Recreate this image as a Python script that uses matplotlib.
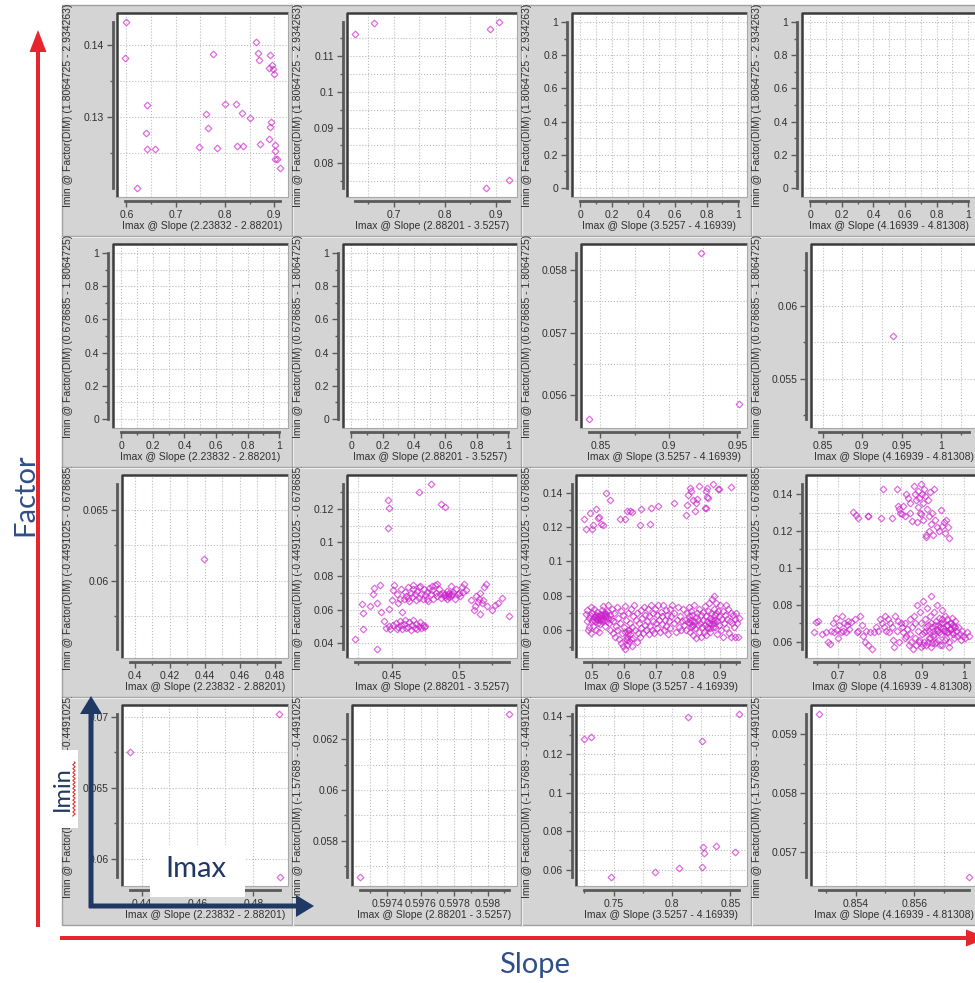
import numpy as np
import matplotlib.pyplot as plt
from matplotlib.ticker import FixedLocator, FuncFormatter
from matplotlib.transforms import Bbox, TransformedBbox
from matplotlib.patches import Rectangle, FancyArrow

W, H = 975, 983

slope_bins = ["2.23832 - 2.88201", "2.88201 - 3.5257", "3.5257 - 4.16939", "4.16939 - 4.81308"]
factor_bins = ["1.8064725 - 2.934263", "0.678685 - 1.8064725",
               "-0.4491025 - 0.678685", "-1.57689 - -0.4491025"]

# row 0 (Factor 1.81 - 2.93)
imax_r0c0 = [0.600, 0.598, 0.622, 0.641, 0.639, 0.642, 0.659, 0.747, 0.762, 0.765, 0.776, 0.784,
             0.800, 0.823, 0.825, 0.837, 0.834, 0.850, 0.864, 0.867, 0.869, 0.871, 0.892, 0.890,
             0.896, 0.897, 0.900, 0.893, 0.891, 0.890, 0.901, 0.901, 0.901, 0.905, 0.911]
imin_r0c0 = [0.1431, 0.1381, 0.1202, 0.1317, 0.1278, 0.1256, 0.1256, 0.1258, 0.1304, 0.1285, 0.1387, 0.1257,
             0.1318, 0.1318, 0.1260, 0.1260, 0.1306, 0.1298, 0.1404, 0.1388, 0.1379, 0.1262, 0.1386, 0.1367,
             0.1372, 0.1366, 0.1359, 0.1293, 0.1286, 0.1270, 0.1261, 0.1253, 0.1242, 0.1242, 0.1229]
imax_r0c1 = [0.625, 0.661, 0.889, 0.907, 0.881, 0.925]
imin_r0c1 = [0.1163, 0.1193, 0.1176, 0.1195, 0.0731, 0.0752]

# row 1 (Factor 0.68 - 1.81)
imax_r1c2 = [0.8415, 0.9232, 0.9510]
imin_r1c2 = [0.05562, 0.05827, 0.05586]
imax_r1c3 = [0.939]
imin_r1c3 = [0.05798]

# row 2 (Factor -0.45 - 0.68)
imax_r2c0 = [0.4395]
imin_r2c0 = [0.0615]
imax_r2c1 = [0.447, 0.448, 0.447, 0.470, 0.479, 0.487, 0.490,
             0.423, 0.439, 0.429, 0.429, 0.428, 0.434, 0.436, 0.437, 0.439, 0.442, 0.444, 0.441,
             0.446, 0.449, 0.451, 0.453, 0.455, 0.456, 0.458, 0.459, 0.460, 0.462, 0.463, 0.464,
             0.465, 0.466, 0.467, 0.468, 0.469, 0.470, 0.471, 0.472, 0.473, 0.474, 0.475, 0.457,
             0.461, 0.454, 0.448,
             0.448, 0.450, 0.451, 0.452, 0.454, 0.455, 0.456, 0.457, 0.458, 0.459, 0.460, 0.461,
             0.462, 0.463, 0.464, 0.465, 0.466, 0.467, 0.468, 0.469, 0.470, 0.471, 0.472, 0.473,
             0.474, 0.475, 0.476, 0.477, 0.478, 0.479, 0.480, 0.481, 0.482, 0.483, 0.484, 0.485,
             0.486, 0.487, 0.488, 0.489, 0.490, 0.490, 0.491, 0.491, 0.492, 0.492, 0.493, 0.493,
             0.494, 0.494, 0.495, 0.496, 0.497, 0.498, 0.499, 0.500, 0.501, 0.502, 0.503, 0.504,
             0.505, 0.480, 0.470, 0.466, 0.462, 0.476, 0.484,
             0.509, 0.511, 0.512, 0.513, 0.514, 0.515, 0.516, 0.517, 0.518, 0.519, 0.520, 0.521,
             0.516, 0.525, 0.527, 0.529, 0.532, 0.537]
imin_r2c1 = [0.1253, 0.1208, 0.1089, 0.1303, 0.1348, 0.1228, 0.1214,
             0.0422, 0.0365, 0.0580, 0.0485, 0.0635, 0.0620, 0.0690, 0.0730, 0.0640, 0.0585, 0.0530, 0.0745,
             0.0492, 0.0485, 0.0505, 0.0518, 0.0498, 0.0532, 0.0485, 0.0512, 0.0540, 0.0495, 0.0523, 0.0478,
             0.0505, 0.0535, 0.0490, 0.0515, 0.0482, 0.0502, 0.0528, 0.0488, 0.0508, 0.0495, 0.0502, 0.0508,
             0.0488, 0.0485, 0.0500,
             0.0605, 0.0655, 0.0715, 0.0745, 0.0690, 0.0640, 0.0665, 0.0720, 0.0585, 0.0660, 0.0705, 0.0680,
             0.0735, 0.0650, 0.0700, 0.0675, 0.0725, 0.0690, 0.0655, 0.0710, 0.0670, 0.0740, 0.0695, 0.0660,
             0.0720, 0.0685, 0.0705, 0.0650, 0.0730, 0.0690, 0.0715, 0.0665, 0.0745, 0.0700, 0.0680, 0.0720,
             0.0690, 0.0670, 0.0700, 0.0685, 0.0675, 0.0695, 0.0710, 0.0665, 0.0690, 0.0680, 0.0700, 0.0672,
             0.0688, 0.0740, 0.0695, 0.0705, 0.0660, 0.0725, 0.0690, 0.0700, 0.0680, 0.0735, 0.0705, 0.0755,
             0.0715, 0.0740, 0.0735, 0.0745, 0.0670, 0.0660, 0.0755,
             0.0655, 0.0600, 0.0620, 0.0680, 0.0645, 0.0660, 0.0700, 0.0640, 0.0655, 0.0735, 0.0750, 0.0620,
             0.0575, 0.0600, 0.0625, 0.0640, 0.0668, 0.0560]

imax_r2c2 = [0.477, 0.482, 0.495, 0.500, 0.505, 0.514, 0.518, 0.522, 0.530, 0.534, 0.543, 0.558,
             0.589, 0.603, 0.610, 0.619, 0.626, 0.651, 0.653, 0.682, 0.684, 0.708, 0.758, 0.793,
             0.798, 0.800, 0.805, 0.811, 0.816, 0.821, 0.826, 0.829, 0.836, 0.853, 0.856, 0.859,
             0.861, 0.863, 0.879, 0.893, 0.898, 0.933, 0.857,
             0.482, 0.484, 0.486, 0.488, 0.490, 0.492, 0.494, 0.496, 0.498, 0.500,
             0.502, 0.504, 0.506, 0.508, 0.510, 0.512, 0.514, 0.515, 0.517, 0.519, 0.520, 0.522,
             0.524, 0.525, 0.527, 0.529, 0.531, 0.532, 0.534, 0.536, 0.538, 0.540, 0.542, 0.544,
             0.546, 0.548, 0.550,
             0.552, 0.554, 0.556, 0.558, 0.560, 0.562, 0.565, 0.567, 0.570, 0.572, 0.575, 0.577,
             0.580, 0.582, 0.585, 0.587, 0.590, 0.592, 0.594, 0.596, 0.598,
             0.600, 0.602, 0.604, 0.606, 0.608, 0.610, 0.612, 0.614, 0.616, 0.618, 0.620, 0.622,
             0.624, 0.626, 0.628, 0.630, 0.633, 0.635, 0.637, 0.640, 0.642, 0.645, 0.647, 0.650,
             0.652, 0.655, 0.657, 0.660, 0.662, 0.665, 0.667, 0.670, 0.672, 0.675, 0.678, 0.680,
             0.683, 0.685, 0.688, 0.690, 0.692, 0.695, 0.697, 0.700, 0.703, 0.705, 0.708, 0.710,
             0.713, 0.715, 0.718, 0.720, 0.723, 0.725, 0.728, 0.730, 0.733, 0.735, 0.738, 0.740,
             0.743, 0.745, 0.748, 0.750,
             0.755, 0.758, 0.762, 0.765, 0.768, 0.772, 0.775, 0.778, 0.782, 0.785, 0.788, 0.792,
             0.795, 0.798,
             0.800, 0.802, 0.804, 0.806, 0.808, 0.810, 0.812, 0.814, 0.816, 0.818, 0.820, 0.822,
             0.824, 0.826, 0.828, 0.830, 0.832, 0.834, 0.836, 0.838, 0.840, 0.842, 0.844, 0.846,
             0.848, 0.850, 0.852, 0.854, 0.856, 0.858, 0.860, 0.862, 0.864, 0.866, 0.868, 0.870,
             0.872, 0.874, 0.876, 0.878, 0.880, 0.882, 0.884, 0.886, 0.888, 0.890, 0.892, 0.894,
             0.896, 0.898,
             0.900, 0.903, 0.905, 0.908, 0.910, 0.913, 0.915, 0.918, 0.920, 0.923, 0.925, 0.928,
             0.930, 0.933, 0.936, 0.938, 0.940, 0.943, 0.946, 0.948, 0.950, 0.953, 0.956, 0.958,
             0.505, 0.509, 0.513, 0.518, 0.523, 0.528, 0.533, 0.537, 0.541, 0.545, 0.605, 0.609,
             0.613, 0.617, 0.621, 0.611, 0.805, 0.809, 0.813, 0.817, 0.861, 0.865, 0.869, 0.873,
             0.877, 0.881, 0.885, 0.889]
imin_r2c2 = [0.1247, 0.1192, 0.1280, 0.1190, 0.1210, 0.1306, 0.1255, 0.1260, 0.1220, 0.1210, 0.1398, 0.1359,
             0.1250, 0.1250, 0.1294, 0.1294, 0.1290, 0.1212, 0.1306, 0.1216, 0.1314, 0.1324, 0.1343, 0.1271,
             0.1330, 0.1388, 0.1427, 0.1412, 0.1359, 0.1294, 0.1343, 0.1365, 0.1437, 0.1314, 0.1408, 0.1427,
             0.1378, 0.1369, 0.1451, 0.1424, 0.1424, 0.1433, 0.1310,
             0.0695, 0.0650, 0.0715, 0.0600, 0.0670, 0.0620, 0.0690, 0.0735, 0.0580, 0.0655,
             0.0700, 0.0625, 0.0675, 0.0720, 0.0650, 0.0690, 0.0600, 0.0665, 0.0705, 0.0640, 0.0680, 0.0590,
             0.0660, 0.0695, 0.0635, 0.0670, 0.0715, 0.0650, 0.0685, 0.0740, 0.0660, 0.0700, 0.0625, 0.0680,
             0.0655, 0.0710, 0.0670,
             0.0745, 0.0640, 0.0690, 0.0600, 0.0665, 0.0720, 0.0580, 0.0650, 0.0700, 0.0560, 0.0625, 0.0735,
             0.0600, 0.0670, 0.0545, 0.0640, 0.0710, 0.0525, 0.0580, 0.0690, 0.0505,
             0.0620, 0.0490, 0.0740, 0.0550, 0.0660, 0.0515, 0.0600, 0.0700, 0.0535, 0.0640, 0.0575, 0.0720,
             0.0510, 0.0620, 0.0680, 0.0555, 0.0745, 0.0600, 0.0660, 0.0530, 0.0700, 0.0585, 0.0640, 0.0560,
             0.0715, 0.0610, 0.0670, 0.0580, 0.0735, 0.0630, 0.0690, 0.0600, 0.0650, 0.0720, 0.0575, 0.0680,
             0.0625, 0.0745, 0.0600, 0.0700, 0.0655, 0.0580, 0.0725, 0.0640, 0.0690, 0.0610, 0.0745, 0.0660,
             0.0590, 0.0705, 0.0635, 0.0680, 0.0745, 0.0600, 0.0660, 0.0715, 0.0625, 0.0690, 0.0575, 0.0650,
             0.0720, 0.0610, 0.0680, 0.0745,
             0.0640, 0.0700, 0.0590, 0.0660, 0.0735, 0.0620, 0.0680, 0.0600, 0.0650, 0.0725, 0.0630, 0.0660,
             0.0600, 0.0700,
             0.0645, 0.0735, 0.0680, 0.0590, 0.0660, 0.0710, 0.0625, 0.0690, 0.0570, 0.0650, 0.0745, 0.0610,
             0.0675, 0.0555, 0.0700, 0.0630, 0.0660, 0.0590, 0.0720, 0.0640, 0.0685, 0.0560, 0.0615, 0.0705,
             0.0660, 0.0590, 0.0740, 0.0630, 0.0680, 0.0570, 0.0655, 0.0710, 0.0610, 0.0760, 0.0670, 0.0590,
             0.0700, 0.0635, 0.0780, 0.0660, 0.0800, 0.0720, 0.0615, 0.0690, 0.0760, 0.0650, 0.0575, 0.0710,
             0.0630, 0.0680,
             0.0745, 0.0600, 0.0665, 0.0710, 0.0560, 0.0640, 0.0690, 0.0745, 0.0610, 0.0665, 0.0720, 0.0580,
             0.0650, 0.0700, 0.0560, 0.0640, 0.0690, 0.0620, 0.0665, 0.0560, 0.0700, 0.0640, 0.0560, 0.0670,
             0.0665, 0.0680, 0.0670, 0.0660, 0.0675, 0.0690, 0.0665, 0.0700, 0.0680, 0.0695, 0.0590, 0.0560,
             0.0580, 0.0600, 0.0545, 0.0540, 0.0640, 0.0620, 0.0650, 0.0630, 0.0620, 0.0640, 0.0610, 0.0660,
             0.0620, 0.0640, 0.0660, 0.0700]

imax_r2c3 = [0.735, 0.742, 0.748, 0.772, 0.772, 0.802, 0.807, 0.827, 0.839, 0.843, 0.846, 0.848,
             0.852, 0.855, 0.858, 0.862, 0.866, 0.870, 0.872, 0.876, 0.880, 0.883, 0.886, 0.889,
             0.891, 0.893, 0.895, 0.897, 0.899, 0.901, 0.903, 0.905, 0.907, 0.909, 0.911, 0.913,
             0.915, 0.917, 0.919, 0.921, 0.923, 0.925, 0.928, 0.931, 0.935, 0.940, 0.945, 0.948,
             0.952, 0.957, 0.961, 0.964, 0.955, 0.898, 0.887, 0.908,
             0.644, 0.648, 0.652, 0.662, 0.672, 0.676, 0.680, 0.684, 0.688, 0.690, 0.694, 0.698,
             0.700, 0.703, 0.706, 0.709, 0.712, 0.715, 0.718, 0.721, 0.724, 0.727, 0.730, 0.740,
             0.744, 0.748, 0.752, 0.756, 0.760, 0.763, 0.766, 0.770, 0.775, 0.780, 0.785, 0.790,
             0.796, 0.800, 0.804, 0.808, 0.812, 0.815, 0.818, 0.821, 0.824, 0.827, 0.830, 0.833,
             0.836, 0.840, 0.843, 0.846, 0.849, 0.852, 0.855, 0.858, 0.860,
             0.862, 0.865, 0.868, 0.870, 0.872, 0.874, 0.876, 0.878, 0.880, 0.882, 0.884, 0.886,
             0.888, 0.890, 0.892, 0.894, 0.896, 0.898, 0.900, 0.902, 0.904, 0.906, 0.908, 0.910,
             0.912, 0.914, 0.916, 0.918, 0.920, 0.922, 0.924, 0.926, 0.928, 0.930, 0.932, 0.934,
             0.936, 0.938, 0.940, 0.942, 0.944, 0.946, 0.948, 0.950, 0.952, 0.954, 0.956, 0.958,
             0.960, 0.962, 0.964, 0.966, 0.968, 0.970, 0.972, 0.974, 0.976, 0.978, 0.980, 0.983,
             0.986, 0.989, 0.992, 0.995, 0.998, 1.002, 1.006, 1.010,
             0.905, 0.910, 0.915, 0.920, 0.925, 0.930, 0.935, 0.940, 0.945, 0.950, 0.955, 0.960,
             0.965, 0.970, 0.975, 0.918, 0.928, 0.938, 0.948, 0.958, 0.968, 0.978, 0.893, 0.903,
             0.913, 0.923, 0.933, 0.943, 0.953, 0.963]
imin_r2c3 = [0.1306, 0.1285, 0.1270, 0.1279, 0.1283, 0.1270, 0.1427, 0.1273, 0.1427, 0.1338, 0.1320, 0.1300,
             0.1290, 0.1335, 0.1280, 0.1400, 0.1380, 0.1350, 0.1300, 0.1255, 0.1445, 0.1400, 0.1370, 0.1330,
             0.1420, 0.1380, 0.1300, 0.1455, 0.1400, 0.1350, 0.1260, 0.1430, 0.1390, 0.1180, 0.1320, 0.1370,
             0.1200, 0.1280, 0.1410, 0.1240, 0.1300, 0.1180, 0.1430, 0.1260, 0.1220, 0.1200, 0.1315, 0.1230,
             0.1250, 0.1260, 0.1224, 0.1161, 0.1190, 0.1290, 0.1250, 0.1170,
             0.0650, 0.0705, 0.0710, 0.0640, 0.0650, 0.0600, 0.0585, 0.0660, 0.0700, 0.0650, 0.0730, 0.0665,
             0.0620, 0.0690, 0.0650, 0.0740, 0.0660, 0.0700, 0.0650, 0.0690, 0.0710, 0.0670, 0.0705, 0.0720,
             0.0650, 0.0660, 0.0740, 0.0690, 0.0630, 0.0600, 0.0660, 0.0580, 0.0650, 0.0560, 0.0650, 0.0680,
             0.0660, 0.0720, 0.0700, 0.0680, 0.0740, 0.0660, 0.0720, 0.0650, 0.0700, 0.0680, 0.0610, 0.0570,
             0.0740, 0.0660, 0.0710, 0.0600, 0.0700, 0.0680, 0.0650, 0.0620, 0.0700,
             0.0630, 0.0670, 0.0580, 0.0720, 0.0640, 0.0600, 0.0680, 0.0560, 0.0740, 0.0620, 0.0700, 0.0580,
             0.0800, 0.0660, 0.0610, 0.0760, 0.0570, 0.0700, 0.0640, 0.0820, 0.0600, 0.0720, 0.0660, 0.0580,
             0.0780, 0.0690, 0.0620, 0.0740, 0.0570, 0.0850, 0.0680, 0.0630, 0.0760, 0.0590, 0.0710, 0.0660,
             0.0800, 0.0610, 0.0730, 0.0680, 0.0640, 0.0770, 0.0580, 0.0700, 0.0660, 0.0740, 0.0620, 0.0690,
             0.0720, 0.0650, 0.0600, 0.0700, 0.0670, 0.0730, 0.0640, 0.0690, 0.0620, 0.0710, 0.0660, 0.0630,
             0.0680, 0.0640, 0.0610, 0.0660, 0.0630, 0.0620, 0.0650, 0.0630,
             0.0650, 0.0680, 0.0655, 0.0700, 0.0660, 0.0690, 0.0670, 0.0650, 0.0700, 0.0675, 0.0655, 0.0690,
             0.0670, 0.0650, 0.0680, 0.0620, 0.0640, 0.0690, 0.0720, 0.0650, 0.0700, 0.0680, 0.0600, 0.0580,
             0.0600, 0.0590, 0.0600, 0.0580, 0.0610, 0.0570]

# row 3 (Factor -1.58 - -0.45)
imax_r3c0 = [0.4358, 0.4893, 0.4894]
imin_r3c0 = [0.06752, 0.0702, 0.0587]
imax_r3c1 = [0.597236, 0.598126]
imin_r3c1 = [0.05658, 0.06299]
imax_r3c2 = [0.725, 0.7306, 0.7477, 0.7857, 0.8057, 0.8137, 0.8257, 0.8257, 0.8263, 0.8271, 0.838, 0.854, 0.857]
imin_r3c2 = [0.128, 0.129, 0.0562, 0.059, 0.0607, 0.1396, 0.1272, 0.0612, 0.0718, 0.0685, 0.0723, 0.0692, 0.141]
imax_r3c3 = [0.852736, 0.857851]
imin_r3c3 = [0.059345, 0.056577]

# (row, col): x values, y values, x tick step, y tick step, axis extent when there are too few points
panels = {
    (0, 0): (imax_r0c0, imin_r0c0, 0.1, 0.01, None),
    (0, 1): (imax_r0c1, imin_r0c1, 0.1, 0.01, None),
    (0, 2): ([], [], 0.2, 0.2, ((0, 1), (0, 1))),
    (0, 3): ([], [], 0.2, 0.2, ((0, 1), (0, 1))),
    (1, 0): ([], [], 0.2, 0.2, ((0, 1), (0, 1))),
    (1, 1): ([], [], 0.2, 0.2, ((0, 1), (0, 1))),
    (1, 2): (imax_r1c2, imin_r1c2, 0.05, 0.001, None),
    (1, 3): (imax_r1c3, imin_r1c3, 0.05, 0.005, ((0.845, 1.035), (0.0522, 0.0637))),
    (2, 0): (imax_r2c0, imin_r2c0, 0.02, 0.005, ((0.397, 0.483), (0.0552, 0.0668))),
    (2, 1): (imax_r2c1, imin_r2c1, 0.05, 0.02, None),
    (2, 2): (imax_r2c2, imin_r2c2, 0.1, 0.02, None),
    (2, 3): (imax_r2c3, imin_r2c3, 0.1, 0.02, None),
    (3, 0): (imax_r3c0, imin_r3c0, 0.02, 0.005, None),
    (3, 1): (imax_r3c1, imin_r3c1, 0.0002, 0.002, None),
    (3, 2): (imax_r3c2, imin_r3c2, 0.05, 0.02, None),
    (3, 3): (imax_r3c3, imin_r3c3, 0.002, 0.001, None),
}

col_edges = [62, 292, 521, 751, 981]
row_edges = [5, 236, 467, 697, 925]

plt.rcParams['font.family'] = ['Liberation Sans', 'DejaVu Sans']
fig = plt.figure(figsize=(W / 100, H / 100), dpi=100)
fig.patch.set_facecolor('white')


def fig_rect(x0, y0, x1, y1):
    return [x0 / W, 1 - y1 / H, (x1 - x0) / W, (y1 - y0) / H]


def ticks_in(lo, hi, step):
    k0 = np.ceil(lo / step - 1e-6)
    k1 = np.floor(hi / step + 1e-6)
    return np.round(np.arange(k0, k1 + 1) * step, 10) + 0.0


def fmt(v):
    v = round(v, 8)
    if abs(v) < 1e-12:
        return '0'
    return '{:g}'.format(v)


# gray panel backdrop with cell separators
bg = fig.add_axes([0, 0, 1, 1], zorder=-5)
bg.set_xlim(0, W)
bg.set_ylim(H, 0)
bg.axis('off')
bg.add_patch(Rectangle((col_edges[0], row_edges[0]), W - col_edges[0] + 10, row_edges[-1] - row_edges[0],
                       fc='#d4d4d4', ec='#a0a0a0', lw=1))
for x in col_edges[1:-1]:
    bg.plot([x, x], [row_edges[0], row_edges[-1]], color='#a4a4a4', lw=1)
    bg.plot([x + 1, x + 1], [row_edges[0], row_edges[-1]], color='#eeeeee', lw=0.8)
for y in row_edges[1:-1]:
    bg.plot([col_edges[0], W], [y, y], color='#a4a4a4', lw=1)
    bg.plot([col_edges[0], W], [y + 1, y + 1], color='#eeeeee', lw=0.8)

spine_c = '#5a5a5a'
for (r, c), (xs, ys, xstep, ystep, ext) in panels.items():
    xs = np.asarray(xs, float)
    ys = np.asarray(ys, float)
    if ext is None:
        x_lo, x_hi = xs.min(), xs.max()
        y_lo, y_hi = ys.min(), ys.max()
    else:
        (x_lo, x_hi), (y_lo, y_hi) = ext
    ymaj = ticks_in(y_lo, y_hi, ystep)
    off = 37 + 4.5 * max(len(fmt(v)) for v in ymaj)

    L, R = col_edges[c], col_edges[c + 1]
    T, B = row_edges[r], row_edges[r + 1]
    ax = fig.add_axes(fig_rect(L + off, T + 8, R - 4, B - 39))
    ax.set_facecolor('white')
    dx = (x_hi - x_lo) * 0.055
    dy = (y_hi - y_lo) * 0.055
    ax.set_xlim(x_lo - dx, x_hi + dx)
    ax.set_ylim(y_lo - dy, y_hi + dy)

    ax.xaxis.set_major_locator(FixedLocator(ticks_in(x_lo, x_hi, xstep)))
    ax.xaxis.set_minor_locator(FixedLocator(ticks_in(x_lo, x_hi, xstep / 2)))
    ax.yaxis.set_major_locator(FixedLocator(ymaj))
    ax.yaxis.set_minor_locator(FixedLocator(ticks_in(y_lo, y_hi, ystep / 2)))
    ax.xaxis.set_major_formatter(FuncFormatter(lambda v, p: fmt(v)))
    ax.yaxis.set_major_formatter(FuncFormatter(lambda v, p: fmt(v)))

    ax.grid(True, which='both', ls=':', color='#bcbcbc', lw=0.8)
    ax.set_axisbelow(True)

    for side in ('top', 'right'):
        ax.spines[side].set_visible(False)
    ax.spines['left'].set_position(('outward', 3))
    ax.spines['bottom'].set_position(('outward', 3))
    ax.spines['left'].set_bounds(y_lo, y_hi)
    ax.spines['bottom'].set_bounds(x_lo, x_hi)
    for side in ('left', 'bottom'):
        ax.spines[side].set_linewidth(2)
        ax.spines[side].set_color(spine_c)

    ax.tick_params(which='major', direction='out', length=4.5, width=1, color=spine_c,
                   labelsize=7.5, labelcolor='#303030', pad=2)
    ax.tick_params(which='minor', direction='out', length=2.5, width=1, color=spine_c)

    # sunken frame round the plotting area
    ax.plot([0, 0, 1], [0, 1, 1], transform=ax.transAxes, color='#3c3c3c', lw=1.8,
            clip_on=False, solid_capstyle='butt', zorder=4)
    ax.plot([1, 1, 0], [1, 0, 0], transform=ax.transAxes, color='#a8a8a8', lw=0.8,
            clip_on=False, zorder=4)

    if len(xs):
        ax.plot(xs, ys, ls='none', marker='D', ms=3.4, mfc='none', mec='#cc22cc',
                mew=0.9, alpha=0.65, zorder=3)

    w_px = (R - 4) - (L + off)
    h_px = (B - 39) - (T + 8)
    ax.set_xlabel(f"Imax @ Slope ({slope_bins[c]})", fontsize=7.5, color='#303030')
    ax.xaxis.set_label_coords(0.5, -24 / h_px)
    ax.set_ylabel(f"Imin @ Factor(DIM) ({factor_bins[r]})", fontsize=7.5, color='#303030')
    ax.yaxis.set_label_coords((11 - off) / w_px, 0.5)
    cell = TransformedBbox(Bbox.from_extents(L / W, 1 - B / H, R / W, 1 - T / H), fig.transFigure)
    ax.yaxis.label.set_clip_box(cell)
    ax.yaxis.label.set_clip_on(True)

# arrows and captions on top
top = fig.add_axes([0, 0, 1, 1], zorder=20)
top.set_xlim(0, W)
top.set_ylim(H, 0)
top.axis('off')
top.patch.set_alpha(0)

red = '#e6262c'
top.add_patch(FancyArrow(38, 927, 0, -897, width=4, head_width=17, head_length=22,
                         length_includes_head=True, color=red, lw=0))
top.add_patch(FancyArrow(60, 938, 928, 0, width=4, head_width=17, head_length=22,
                         length_includes_head=True, color=red, lw=0))
top.text(25, 495, 'Factor', rotation=90, fontsize=21, color='#2f4f8a',
         ha='center', va='center', family='Lato')
top.text(535, 965, 'Slope', fontsize=21, color='#2f4f8a', ha='center', va='center', family='Lato')

navy = '#1f3864'
top.add_patch(Rectangle((48, 750), 30, 78, fc='white', ec='none'))
top.text(62, 789, 'Imin', rotation=90, fontsize=17, color=navy, ha='center', va='center', family='Lato')
wy = np.linspace(762, 816, 60)
top.plot(74 + 1.2 * np.sin(wy * 1.6), wy, color='#e03030', lw=0.8)
top.add_patch(Rectangle((150, 845), 95, 52, fc='white', ec='none'))
top.text(196, 869, 'Imax', fontsize=21, color=navy, ha='center', va='center', family='Lato')
top.add_patch(FancyArrow(91, 908, 0, -212, width=5, head_width=22, head_length=18,
                         length_includes_head=True, color=navy, lw=0))
top.add_patch(FancyArrow(89, 906, 225, 0, width=5, head_width=22, head_length=18,
                         length_includes_head=True, color=navy, lw=0))

fig.savefig('out.png', dpi=100)
